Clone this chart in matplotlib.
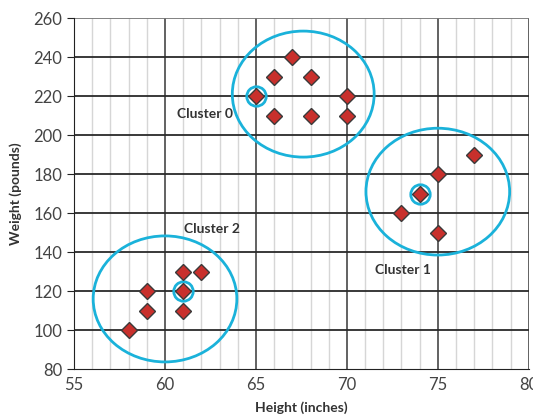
# Import Libraries
import matplotlib
matplotlib.use('Agg')
import matplotlib.pyplot as plt
from matplotlib.patches import Ellipse

plt.rcParams['font.family'] = ['Lato', 'DejaVu Sans']

# Data: heights (inches) and weights (pounds) per cluster
c0_height = [65, 66, 67, 68, 66, 68, 70, 70]
c0_weight = [220, 230, 240, 230, 210, 210, 220, 210]
c1_height = [77, 75, 74, 73, 75]
c1_weight = [190, 180, 170, 160, 150]
c2_height = [61, 62, 59, 61, 59, 61, 58]
c2_weight = [130, 130, 120, 120, 110, 110, 100]

# Cluster centroids (circled points)
centroid_x = [65, 74, 61]
centroid_y = [220, 170, 120]

# Cluster ellipses: centre x, centre y, width, height
ell_x = [67.6, 75.0, 60.0]
ell_y = [221, 171, 116]
ell_w = [7.8, 7.9, 7.9]
ell_h = [64.6, 65, 64.6]

# Labels
labels = ['Cluster 0', 'Cluster 1', 'Cluster 2']
label_x = [62.2, 73.1, 62.6]
label_y = [211, 131, 152]

red = '#c8302c'
cyan = '#1ab2da'

fig = plt.figure(figsize=(5.33, 4.19), dpi=100)
ax = fig.add_axes([0.139, 0.119, 0.853, 0.838])

ax.set_xlim(55, 80)
ax.set_ylim(80, 260)

# Grid lines
for x in range(56, 80):
    if x % 5 != 0:
        ax.axvline(x, color='#d6d6d6', lw=1.0, zorder=0)
for x in range(60, 81, 5):
    ax.axvline(x, color='#555555', lw=1.3, zorder=1)
for y in range(100, 261, 20):
    ax.axhline(y, color='#2a2a2a' if y < 260 else '#777777', lw=1.3, zorder=1)

# Ellipses
for i in range(3):
    ax.add_patch(Ellipse((ell_x[i], ell_y[i]), ell_w[i], ell_h[i],
                         fill=False, edgecolor=cyan, lw=2, zorder=3))

# Centroid circles
ax.plot(centroid_x, centroid_y, 'o', ms=14, mfc='none', mec=cyan, mew=2, zorder=4)

# Points
for hx, wy in [(c0_height, c0_weight), (c1_height, c1_weight), (c2_height, c2_weight)]:
    ax.plot(hx, wy, 'D', ms=8.5, mfc=red, mec='#3a3a3a', mew=1.0, ls='none', zorder=5)

# Cluster labels
for i in range(3):
    ax.text(label_x[i], label_y[i], labels[i], fontsize=10, fontweight='bold',
            color='#333333', ha='center', va='center', zorder=6)

# Axes styling
for s in ['top', 'right']:
    ax.spines[s].set_visible(False)
ax.spines['left'].set_color('#222222')
ax.spines['bottom'].set_color('#222222')
ax.set_xticks(range(55, 81, 5))
ax.set_yticks(range(80, 261, 20))
ax.tick_params(axis='y', length=5, direction='out', color='#222222', labelsize=12, labelcolor='#444444')
ax.tick_params(axis='x', length=0, pad=6, labelsize=12, labelcolor='#444444')

ax.set_xlabel('Height (inches)', fontsize=10, fontweight='bold', color='#333333', labelpad=6)
ax.set_ylabel('Weight (pounds)', fontsize=10, fontweight='bold', color='#333333', labelpad=8)

plt.savefig('out.png', dpi=100)
